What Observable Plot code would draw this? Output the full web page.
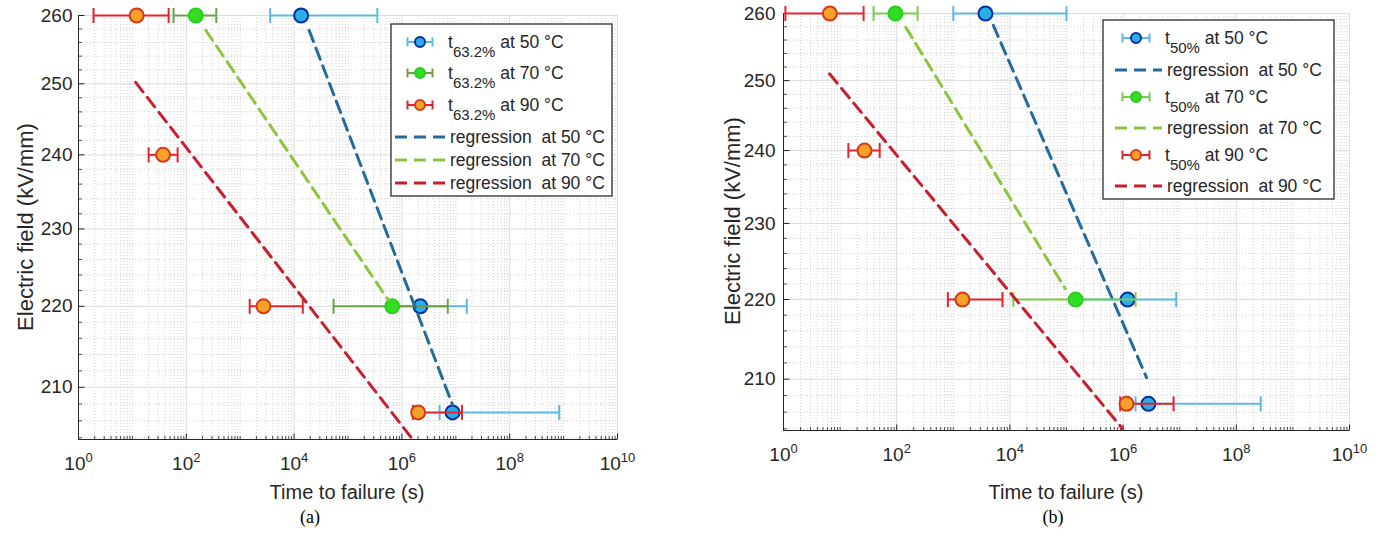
<!DOCTYPE html>
<html><head><meta charset="utf-8">
<script src="https://cdn.jsdelivr.net/npm/d3@7"></script>
<script src="https://cdn.jsdelivr.net/npm/@observablehq/plot@0.6"></script>
<style>
html,body{margin:0;padding:0;background:#fff;}
#wrap{position:relative;width:1390px;height:539px;overflow:hidden;}
#wrap svg{position:absolute;top:0;}
</style></head><body><div id="wrap"></div>
<script>
// ---------- data ----------
const yTicks = [210, 220, 230, 240, 250, 260];
const xTicks = [1e0, 1e2, 1e4, 1e6, 1e8, 1e10];
const yDomain = [203.8, 260];
const tempNames = ["50 °C", "70 °C", "90 °C"];

// panel (a): t63.2%
const aE50 = [260, 220, 207], aT50 = [1.35e4, 2.2e6, 8.7e6], aLo50 = [3.6e3, 6.6e5, 5.0e6], aHi50 = [3.5e5, 1.6e7, 8.3e8];
const aE70 = [260, 220], aT70 = [150, 6.6e5], aLo70 = [58, 5.4e4], aHi70 = [360, 7.1e6];
const aE90 = [260, 240, 220, 207], aT90 = [12, 37, 2.7e3, 2.0e6], aLo90 = [1.9, 20, 1.5e3, 1.6e6], aHi90 = [47, 69, 1.45e4, 1.3e7];
const aRegT50 = [1.9e4, 8.7e6], aRegE50 = [257.8, 207.9];
const aRegT70 = [230, 5.6e5], aRegE70 = [257.8, 220.8];
const aRegT90 = [11.5, 1.5e6], aRegE90 = [250.2, 204];

// panel (b): t50%
const bE50 = [260, 220, 207], bT50 = [3.7e3, 1.2e6, 2.8e6], bLo50 = [1.0e3, 1.45e5, 1.66e6], bHi50 = [1.0e5, 8.7e6, 2.7e8];
const bE70 = [260, 220], bT70 = [95, 1.45e5], bLo70 = [39, 1.15e4], bHi70 = [234, 1.66e6];
const bE90 = [260, 240, 220, 207], bT90 = [6.6, 27, 1.45e3, 1.15e6], bLo90 = [1.08, 14, 800, 8.9e5], bHi90 = [26, 50, 7.4e3, 7.8e6];
const bRegT50 = [5.1e3, 2.6e6], bRegE50 = [258.2, 210.2];
const bRegT70 = [145, 9.5e4], bRegE70 = [257.9, 221.4];
const bRegT90 = [6.5, 9.8e5], bRegE90 = [251, 204];

// ---------- helpers ----------
const rows = (E, T, Lo, Hi) => E.map((e, i) => ({E: e, t: T[i], lo: Lo[i], hi: Hi[i]}));
const pts = (T, E) => T.map((t, i) => ({t, E: E[i]}));

const xMinor = [];
for (let n = 0; n < 10; n++) for (let k = 1; k <= 9; k++) { if (k === 1 && n % 2 === 0) continue; xMinor.push(k * Math.pow(10, n)); }
const yMinor = [];
for (let v = 204; v <= 258; v += 2) if (v % 10 !== 0) yMinor.push(v);

const FONT = "'Liberation Sans', Arial, Helvetica, sans-serif";
const INK = "#262626";
const upTick = len => ({draw(c){ c.moveTo(0, 0); c.lineTo(0, -len); }});
const rightTick = len => ({draw(c){ c.moveTo(0, 0); c.lineTo(len, 0); }});
const capSym = {draw(c){ c.moveTo(0, -7.5); c.lineTo(0, 7.5); }};

const styles = {
  s50: {bar: "#5cb8e6", face: "#2aaeea", edge: "#0a2d9e", reg: "#236b9d"},
  s70a: {bar: "#6f9f45", face: "#33dd22", edge: "#2ccc22", reg: "#8cc63f"},
  s70b: {bar: "#7bcc4e", face: "#33dd22", edge: "#2ccc22", reg: "#8cc63f"},
  s90: {bar: "#e2242c", face: "#f7a128", edge: "#d43a1a", reg: "#c81e2e"}
};

function errMarks(data, st) {
  return [
    Plot.ruleY(data, {y: "E", x1: "lo", x2: "hi", stroke: st.bar, strokeWidth: 2}),
    Plot.dot(data, {x: "lo", y: "E", symbol: capSym, stroke: st.bar, strokeWidth: 2, fill: "none"}),
    Plot.dot(data, {x: "hi", y: "E", symbol: capSym, stroke: st.bar, strokeWidth: 2, fill: "none"}),
    Plot.dot(data, {x: "t", y: "E", r: 7, fill: st.face, stroke: st.edge, strokeWidth: 2})
  ];
}
function regMarks(data, st) {
  return [Plot.line(data, {x: "t", y: "E", stroke: st.reg, strokeWidth: 3, strokeDasharray: "12,7"})];
}

function buildPanel(cfg) {
  const yB = yDomain[0];
  const marks = [
    Plot.ruleX(xMinor, {stroke: "#c8c8c8", strokeWidth: 0.8, strokeDasharray: "1,2"}),
    Plot.ruleY(yMinor, {stroke: "#c8c8c8", strokeWidth: 0.8, strokeDasharray: "1,2"}),
    Plot.ruleX(xTicks.slice(1), {stroke: "#dcdcdc", strokeWidth: 1}),
    Plot.ruleY(yTicks, {stroke: "#dcdcdc", strokeWidth: 1}),
    Plot.ruleX([1], {stroke: INK, strokeWidth: 1}),
    Plot.ruleY([yB], {stroke: INK, strokeWidth: 1}),
    Plot.dot(xTicks, {x: d => d, y: () => yB, symbol: upTick(6), stroke: INK, strokeWidth: 1, fill: "none"}),
    Plot.dot(xMinor, {x: d => d, y: () => yB, symbol: upTick(3.5), stroke: INK, strokeWidth: 0.8, fill: "none"}),
    Plot.dot(yTicks, {x: () => 1, y: d => d, symbol: rightTick(6), stroke: INK, strokeWidth: 1, fill: "none"}),
    Plot.dot(yMinor, {x: () => 1, y: d => d, symbol: rightTick(3.5), stroke: INK, strokeWidth: 0.8, fill: "none"}),
    Plot.axisX(xTicks, {tickSize: 0, tickPadding: 17, fontSize: 19, label: null,
      tickFormat: d => "10^" + Math.round(Math.log10(d))}),
    Plot.axisY(yTicks, {tickSize: 0, tickPadding: cfg.yPad, fontSize: 19, label: null, tickFormat: d => String(d)}),
    ...cfg.dataMarks
  ];
  const svg = Plot.plot({
    width: 695, height: 539,
    marginLeft: cfg.mL, marginRight: cfg.mR, marginTop: cfg.mT, marginBottom: cfg.mB,
    x: {type: "log", domain: [1, 1e10]},
    y: {type: "log", domain: yDomain},
    style: {fontFamily: FONT, color: INK, background: "transparent", overflow: "visible"},
    marks
  });
  svg.style.left = cfg.left + "px";
  // superscript exponents on x tick labels
  svg.querySelectorAll("text").forEach(t => {
    const m = /^10\^(\d+)$/.exec(t.textContent);
    if (!m) return;
    t.textContent = "";
    const ns = "http://www.w3.org/2000/svg";
    const a = document.createElementNS(ns, "tspan"); a.textContent = "10"; t.appendChild(a);
    const b = document.createElementNS(ns, "tspan"); b.textContent = m[1];
    b.setAttribute("font-size", "13"); b.setAttribute("dy", "-8"); t.appendChild(b);
  });
  const g = d3.select(svg).append("g").attr("font-family", FONT).attr("fill", INK);
  // axis labels
  g.append("text").attr("x", cfg.xLab[0]).attr("y", cfg.xLab[1]).attr("text-anchor", "middle")
    .attr("font-size", 20).text("Time to failure (s)");
  g.append("text").attr("transform", `translate(${cfg.yLab[0]},${cfg.yLab[1]}) rotate(-90)`)
    .attr("text-anchor", "middle").attr("dy", "0.35em").attr("font-size", 22).text("Electric field (kV/mm)");
  g.append("text").attr("x", cfg.cap[0]).attr("y", cfg.cap[1]).attr("text-anchor", "middle")
    .attr("font-family", "'Liberation Serif', 'Times New Roman', serif").attr("font-size", 18).attr("fill", "#000").text(cfg.capText);
  // legend
  const L = cfg.legend;
  const lg = g.append("g").attr("text-anchor", "start");
  lg.append("rect").attr("x", L.x).attr("y", L.y).attr("width", L.w).attr("height", L.h)
    .attr("fill", "#fff").attr("stroke", "#3a3a3a").attr("stroke-width", 1.4);
  L.rows.forEach(r => {
    const cy = r.cy;
    if (r.kind === "err") {
      const x0 = L.sx - L.half, x1 = L.sx + L.half;
      lg.append("line").attr("x1", x0).attr("x2", x1).attr("y1", cy).attr("y2", cy).attr("stroke", r.st.bar).attr("stroke-width", 2);
      [x0, x1].forEach(x => lg.append("line").attr("x1", x).attr("x2", x).attr("y1", cy - 4.5).attr("y2", cy + 4.5).attr("stroke", r.st.bar).attr("stroke-width", 2));
      lg.append("circle").attr("cx", L.sx).attr("cy", cy).attr("r", 5).attr("fill", r.st.face).attr("stroke", r.st.edge).attr("stroke-width", 2);
      const tx = lg.append("text").attr("text-anchor", "start").attr("x", L.tx).attr("y", cy + 6).attr("font-size", 17.5).style("white-space", "pre");
      tx.append("tspan").text("t");
      tx.append("tspan").attr("font-size", 15).attr("dy", 9).text(L.sub);
      tx.append("tspan").attr("dy", -9).text(" at " + r.name);
    } else {
      lg.append("line").attr("x1", L.dx0).attr("x2", L.dx1).attr("y1", cy).attr("y2", cy)
        .attr("stroke", r.st.reg).attr("stroke-width", 3).attr("stroke-dasharray", "12,7");
      lg.append("text").attr("text-anchor", "start").attr("x", L.tx + 2).attr("y", cy + 6).attr("font-size", 17.5).style("white-space", "pre")
        .text("regression  at " + r.name);
    }
  });
  return svg;
}

const wrap = document.getElementById("wrap");

// panel (a)
wrap.appendChild(buildPanel({
  left: 0, mL: 78, mR: 78, mT: 15, mB: 100, yPad: 6,
  dataMarks: [
    ...errMarks(rows(aE50, aT50, aLo50, aHi50), styles.s50),
    ...errMarks(rows(aE70, aT70, aLo70, aHi70), styles.s70a),
    ...errMarks(rows(aE90, aT90, aLo90, aHi90), styles.s90),
    ...regMarks(pts(aRegT50, aRegE50), styles.s50),
    ...regMarks(pts(aRegT70, aRegE70), styles.s70a),
    ...regMarks(pts(aRegT90, aRegE90), styles.s90)
  ],
  xLab: [347, 499], yLab: [25, 227], cap: [310, 523], capText: "(a)",
  legend: {x: 391, y: 24, w: 221, h: 172, sx: 420, half: 12.5, dx0: 395, dx1: 445, tx: 448, sub: "63.2%",
    rows: [
      {kind: "err", cy: 42, st: styles.s50, name: tempNames[0]},
      {kind: "err", cy: 73, st: styles.s70a, name: tempNames[1]},
      {kind: "err", cy: 105, st: styles.s90, name: tempNames[2]},
      {kind: "reg", cy: 137, st: styles.s50, name: tempNames[0]},
      {kind: "reg", cy: 160, st: styles.s70a, name: tempNames[1]},
      {kind: "reg", cy: 183, st: styles.s90, name: tempNames[2]}
    ]}
}));

// panel (b)
wrap.appendChild(buildPanel({
  left: 695, mL: 88, mR: 41, mT: 13, mB: 109, yPad: 8,
  dataMarks: [
    ...errMarks(rows(bE50, bT50, bLo50, bHi50), styles.s50),
    ...regMarks(pts(bRegT50, bRegE50), styles.s50),
    ...errMarks(rows(bE70, bT70, bLo70, bHi70), styles.s70b),
    ...regMarks(pts(bRegT70, bRegE70), styles.s70b),
    ...errMarks(rows(bE90, bT90, bLo90, bHi90), styles.s90),
    ...regMarks(pts(bRegT90, bRegE90), styles.s90)
  ],
  xLab: [371, 499], yLab: [37, 221], cap: [358, 523], capText: "(b)",
  legend: {x: 408, y: 20, w: 231, h: 179, sx: 441, half: 13.5, dx0: 420, dx1: 467, tx: 470, sub: "50%",
    rows: [
      {kind: "err", cy: 38, st: styles.s50, name: tempNames[0]},
      {kind: "reg", cy: 70, st: styles.s50, name: tempNames[0]},
      {kind: "err", cy: 97, st: styles.s70b, name: tempNames[1]},
      {kind: "reg", cy: 128, st: styles.s70b, name: tempNames[1]},
      {kind: "err", cy: 155, st: styles.s90, name: tempNames[2]},
      {kind: "reg", cy: 186, st: styles.s90, name: tempNames[2]}
    ]}
}));
</script></body></html>
